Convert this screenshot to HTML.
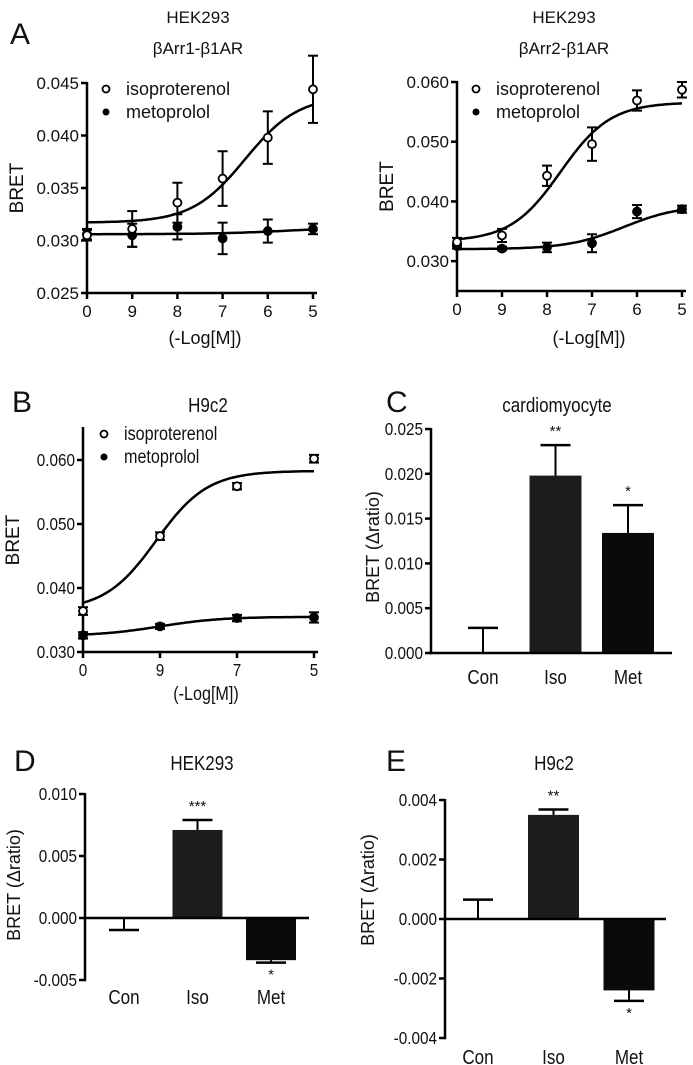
<!DOCTYPE html>
<html><head><meta charset="utf-8"><style>
html,body{margin:0;padding:0;background:#fff}
svg{display:block;font-family:"Liberation Sans",Arial,sans-serif}
</style></head><body>
<svg id="fig" width="693" height="1065" viewBox="0 0 693 1065" xmlns="http://www.w3.org/2000/svg"></svg>
<script>
// ---- Panel A left data ----
const aLeftCats = ["0","9","8","7","6","5"];
const aLeftIso = [0.0305,0.0311,0.0336,0.0359,0.0398,0.0444];
const aLeftIsoErr = [0.0005,0.0017,0.0019,0.0026,0.0025,0.0032];
const aLeftMet = [0.0306,0.0305,0.0313,0.0302,0.0309,0.0311];
const aLeftMetErr = [0.0005,0.0011,0.0012,0.0015,0.0011,0.0005];
const aLeftIsoFit = [0.0317,0.0438,3.5,1.7]; // bottom, top, mid(index), slope
const aLeftMetFit = [0.0306,0.0313,4.5,1.2];
const aLeftTicks = [0.025,0.030,0.035,0.040,0.045];
// ---- Panel A right data ----
const aRightCats = ["0","9","8","7","6","5"];
const aRightIso = [0.0332,0.0343,0.0443,0.0496,0.0569,0.0587];
const aRightIsoErr = [0.0007,0.0011,0.0017,0.0028,0.0017,0.0013];
const aRightMet = [0.0325,0.0321,0.0323,0.0330,0.0383,0.0387];
const aRightMetErr = [0.0004,0.0003,0.0008,0.0015,0.0011,0.0006];
const aRightIsoFit = [0.0333,0.0566,2.3,1.8];
const aRightMetFit = [0.0320,0.0394,3.7,1.6];
const aRightTicks = [0.030,0.040,0.050,0.060];
// ---- Panel B data ----
const bCats = ["0","9","7","5"];
const bIso = [0.0364,0.0481,0.0559,0.0602];
const bIsoErr = [0.0006,0.0006,0.0005,0.0006];
const bMet = [0.0326,0.0340,0.0353,0.0354];
const bMetErr = [0.0005,0.0004,0.0005,0.0008];
const bIsoFit = [0.0365,0.0583,0.95,3.0];
const bMetFit = [0.0325,0.0355,1.0,2.5];
const bTicks = [0.030,0.040,0.050,0.060];
// ---- Bar panels ----
const barCats = ["Con","Iso","Met"];
const cVals = [0.0,0.0198,0.0134];
const cErr = [0.0028,0.0034,0.0031];
const cStars = ["","**","*"];
const cTicks = [0.000,0.005,0.010,0.015,0.020,0.025];
const dVals = [0.0,0.0071,-0.0034];
const dErr = [-0.00097,0.0008,-0.0002];
const dStars = ["","***","*"];
const dTicks = [-0.005,0.000,0.005,0.010];
const eVals = [0.0,0.0035,-0.0024];
const eErr = [0.00065,0.00018,-0.00035];
const eStars = ["","**","*"];
const eTicks = [-0.004,-0.002,0.000,0.002,0.004];

const NS="http://www.w3.org/2000/svg";
const svg=document.getElementById('fig');
function mk(tag,attrs,parent){const e=document.createElementNS(NS,tag);for(const k in attrs)e.setAttribute(k,attrs[k]);(parent||svg).appendChild(e);return e;}
function txt(s,x,y,size,anchor,parent,sx,name){const t=mk('text',{x:0,y:0,'font-size':size,'text-anchor':anchor||'middle',fill:'#111',transform:`translate(${x},${y}) scale(${sx||1},1)`},parent);t.textContent=s;


return t;}
function line(x1,y1,x2,y2,w,parent){return mk('line',{x1,y1,x2,y2,stroke:'#000','stroke-width':w||2.5},parent);}
function lin(d0,d1,r0,r1){return v=>r0+(v-d0)/(d1-d0)*(r1-r0);}

function curvePanel(o){
  const g=mk('g',{});
  
  
  const y=lin(o.ymin,o.ymax,o.yb,o.yt);
  const x=i=>o.x0+i*o.dx;
  const xEnd=x(o.cats.length-1)+4;
  line(o.ax,o.yt-1,o.ax,o.yb+1.2,2.5,g);
  line(o.ax-1,o.yb,xEnd,o.yb,2.5,g);
  o.ticks.forEach(t=>{const yy=y(t);line(o.ax-6,yy,o.ax,yy,2.5,g);txt(t.toFixed(3),o.ax-8,yy+6,o.fs,'end',g,o.sx,'y-tick-label');});
  o.cats.forEach((c,i)=>{line(x(i),o.yb,x(i),o.yb+6,2.5,g);txt(c,x(i),o.yb+24,o.fs,'middle',g,o.sx,'x-tick-label');});
  txt('BRET',0,0,o.tfs,'middle',g,1,'y-axis-title').setAttribute('transform',`translate(${o.ax-64},${(o.yt+o.yb)/2}) rotate(-90)`);
  [[o.met,o.metErr,o.metFit,false,'metoprolol-series'],[o.iso,o.isoErr,o.isoFit,true,'isoproterenol-series']].forEach(([v,e,f,open,nm])=>{
    const sg=mk('g',{},g);
    
    
    let d='';const n=o.cats.length-1;
    for(let k=0;k<=100;k++){const xi=k/100*n;const val=f[0]+(f[1]-f[0])/(1+Math.exp(-f[3]*(xi-f[2])));d+=(k?'L':'M')+(o.x0+xi*o.dx).toFixed(1)+','+y(val).toFixed(1);}
    mk('path',{d,fill:'none',stroke:'#000','stroke-width':2.5},sg);
    v.forEach((val,i)=>{const cx=x(i),cy=y(val),h=Math.abs(y(val+e[i])-cy);
      line(cx,cy-h,cx,cy+h,2,sg);line(cx-5,cy-h,cx+5,cy-h,2,sg);line(cx-5,cy+h,cx+5,cy+h,2,sg);
      const c=mk('circle',{cx,cy,r:4,fill:open?'#fff':'#000',stroke:'#000','stroke-width':1.8},sg);
      
      });
  });
  const lg=mk('g',{},g);
  
  
  mk('circle',{cx:o.lx,cy:o.ly,r:3.5,fill:'#fff',stroke:'#000','stroke-width':1.8},lg);
  txt('isoproterenol',o.lx+20,o.ly+6,o.lfs,'start',lg,o.sx,'legend-entry-isoproterenol');
  mk('circle',{cx:o.lx,cy:o.ly+23,r:3.5,fill:'#000'},lg);
  txt('metoprolol',o.lx+20,o.ly+29,o.lfs,'start',lg,o.sx,'legend-entry-metoprolol');
  txt('(-Log[M])',o.xlabX,o.xlabY,o.lfs,'middle',g,o.sx,'x-axis-title');
}

function barPanel(o){
  const g=mk('g',{});
  
  
  const y=lin(o.ymin,o.ymax,o.yb,o.yt);
  const y0=y(0);
  line(o.ax,o.yt-1,o.ax,o.yb+1.2,2.5,g);
  o.ticks.forEach(t=>{const yy=y(t);line(o.ax-6,yy,o.ax,yy,2.5,g);txt(t.toFixed(3),o.ax-8,yy+6,o.fs,'end',g,0.85,'y-tick-label');});
  o.cats.forEach((c,i)=>{
    const cx=o.x0+i*o.dx,v=o.vals[i],e=o.err[i];
    if(v!==0){const r=mk('rect',{x:cx-o.bw/2,y:Math.min(y(v),y0),width:o.bw,height:Math.abs(y(v)-y0),fill:i==1?'#1c1c1c':'#0a0a0a'},g);
      
      }
    const ye=y(v+e);
    line(cx,y(v),cx,ye,2,g);line(cx-15,ye,cx+15,ye,2.5,g);
    if(o.stars[i]){const sy=e>0||v>0?ye-9:ye+17;txt(o.stars[i],cx,sy,15,'middle',g,1,'significance-marker');}
    txt(c,cx,o.labY,20,'middle',g,0.85,'x-category-label');
  });
  line(o.ax-1,y0,o.axEnd,y0,2.5,g);
  txt('BRET (\u0394ratio)',0,0,18,'middle',g,1,'y-axis-title').setAttribute('transform',`translate(${o.ytx},${o.yty}) rotate(-90)`);
}

[['A',10,44],['B',12,412],['C',386,412],['D',14,771],['E',386,771]].forEach(([s,x,y])=>txt(s,x,y,30,'start',svg,1,'panel-letter-'+s.toLowerCase()));
txt('HEK293',198,23,17,'middle',svg,1,'panel-a-left-title');
txt('\u03b2Arr1-\u03b21AR',198,54,17,'middle',svg,1,'panel-a-left-subtitle');
txt('HEK293',564,23,17,'middle',svg,1,'panel-a-right-title');
txt('\u03b2Arr2-\u03b21AR',564,54,17,'middle',svg,1,'panel-a-right-subtitle');
txt('H9c2',208,412,20,'middle',svg,0.85,'panel-b-title');
txt('cardiomyocyte',557,412,20,'middle',svg,0.85,'panel-c-title');
txt('HEK293',202,770,20,'middle',svg,0.85,'panel-d-title');
txt('H9c2',554,770,20,'middle',svg,0.85,'panel-e-title');

curvePanel({name:'chart-a-left',cats:aLeftCats,iso:aLeftIso,isoErr:aLeftIsoErr,met:aLeftMet,metErr:aLeftMetErr,isoFit:aLeftIsoFit,metFit:aLeftMetFit,ticks:aLeftTicks,
  ymin:0.025,ymax:0.045,yb:293,yt:83,ax:87,x0:87,dx:45.2,fs:17,lfs:18,tfs:19,sx:1,lx:106,ly:89,xlabX:205,xlabY:344});
curvePanel({name:'chart-a-right',cats:aRightCats,iso:aRightIso,isoErr:aRightIsoErr,met:aRightMet,metErr:aRightMetErr,isoFit:aRightIsoFit,metFit:aRightMetFit,ticks:aRightTicks,
  ymin:0.025,ymax:0.060,yb:291,yt:82,ax:457,x0:457,dx:45,fs:17,lfs:18,tfs:19,sx:1,lx:476,ly:89,xlabX:589,xlabY:344});
curvePanel({name:'chart-b',cats:bCats,iso:bIso,isoErr:bIsoErr,met:bMet,metErr:bMetErr,isoFit:bIsoFit,metFit:bMetFit,ticks:bTicks,
  ymin:0.030,ymax:0.065,yb:652,yt:428,ax:83,x0:83,dx:77,fs:18,lfs:19,tfs:19,sx:0.85,lx:104,ly:434,xlabX:206,xlabY:700});
barPanel({name:'chart-c',cats:barCats,vals:cVals,err:cErr,stars:cStars,ticks:cTicks,ymin:0,ymax:0.025,yb:653,yt:429,ax:431,axEnd:672,
  x0:483,dx:72.5,bw:52,fs:18,labY:684,ytx:379,yty:547});
barPanel({name:'chart-d',cats:barCats,vals:dVals,err:dErr,stars:dStars,ticks:dTicks,ymin:-0.005,ymax:0.010,yb:980,yt:794,ax:85,axEnd:309,
  x0:124,dx:73.5,bw:50,fs:18,labY:1004,ytx:20,yty:885});
barPanel({name:'chart-e',cats:barCats,vals:eVals,err:eErr,stars:eStars,ticks:eTicks,ymin:-0.004,ymax:0.004,yb:1038,yt:800,ax:445,axEnd:666,
  x0:478,dx:75.5,bw:51,fs:18,labY:1064,ytx:374,yty:890});
</script>
</body></html>
